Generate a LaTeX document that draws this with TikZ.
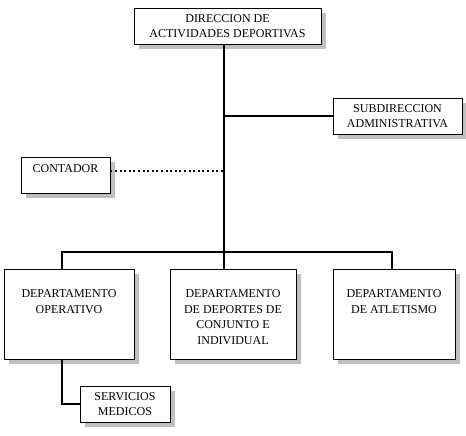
\documentclass[tikz,border=0pt]{standalone}
\usepackage{fontspec}
\setmainfont{Liberation Serif}
\usetikzlibrary{positioning,shadows}
\tikzset{
  unit/.style={draw=black, line width=0.9pt, fill=white, align=center,
    inner sep=0pt, font=\fontsize{12}{15.5}\selectfont,
    drop shadow={shadow xshift=5pt, shadow yshift=-5pt, fill=black!25, opacity=1}},
  deptbox/.style={unit, minimum width=#1, minimum height=90pt},
  deptname/.style={align=center, inner sep=0pt, font=\fontsize{12}{15.5}\selectfont},
  conn/.style={line width=1.8pt, line cap=rect},
  dotline/.style={line width=2pt, dash pattern=on 2pt off 2.6pt}
}
\begin{document}
\begin{tikzpicture}[x=1pt,y=-1pt]
      \useasboundingbox (0,0) rectangle (466,436);
      % cajas
      \node[unit, minimum width=187pt, minimum height=36pt] (dir) at (227.5,26)
        {DIRECCION DE\\ACTIVIDADES DEPORTIVAS};
      \node[unit, minimum width=129pt, minimum height=36pt] (sub) at (397.5,116)
        {SUBDIRECCION\\ADMINISTRATIVA};
      \node[unit, minimum width=89pt, minimum height=36pt, text depth=12pt] (cont) at (65.5,175)
        {CONTADOR};
      \node[deptbox=130pt] (opr) at (69,314) {};
      \node[deptbox=126pt] (dep) at (233,314) {};
      \node[deptbox=122pt] (atl) at (394,314) {};
      \node[deptname, below=21pt of opr.north] (oprtxt) {DEPARTAMENTO\\OPERATIVO};
      \node[deptname, below=21pt of dep.north] (deptxt)
        {DEPARTAMENTO\\DE DEPORTES DE\\CONJUNTO E\\INDIVIDUAL};
      \node[deptname, below=21pt of atl.north] (atltxt) {DEPARTAMENTO\\DE ATLETISMO};
      \node[unit, minimum width=90pt, minimum height=36pt] (med) at (125,404)
        {SERVICIOS\\MEDICOS};
      % lineas
      \coordinate (bar) at (224,252);
      \coordinate (jsub) at (224,116);
      \coordinate (jcont) at (224,171);
      \coordinate (bl) at (62,252);
      \coordinate (br) at (392,252);
      \draw[conn] (dir.south -| bar) -- (bar);
      \draw[conn] (jsub) -- (sub.west);
      \draw[dotline] (cont.east |- jcont) -- (jcont);
      \draw[conn] (bl) -- (br);
      \draw[conn] (bl) -- (bl |- opr.north);
      \draw[conn] (bar) -- (bar |- dep.north);
      \draw[conn] (br) -- (br |- atl.north);
      \draw[conn] (opr.south -| bl) -- (bl |- med.west) -- (med.west);
\end{tikzpicture}
\end{document}
